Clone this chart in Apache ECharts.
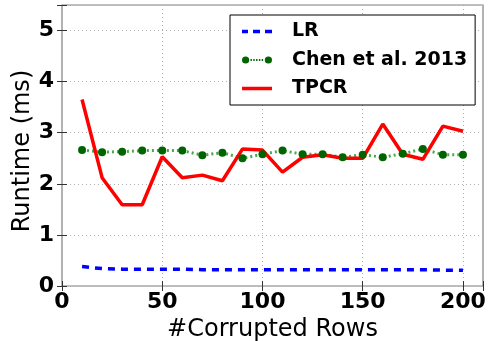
<!DOCTYPE html>
<html>
<head>
<meta charset="utf-8">
<script src="https://cdn.jsdelivr.net/npm/echarts@6/dist/echarts.min.js"></script>
<style>html,body{margin:0;padding:0;background:#fff}#c{width:488px;height:341px}</style>
</head>
<body>
<div id="c"></div>
<script>
const xValues = [10,20,30,40,50,60,70,80,90,100,110,120,130,140,150,160,170,180,190,200];
const lrValues = [0.38,0.34,0.33,0.33,0.33,0.33,0.32,0.32,0.32,0.32,0.32,0.32,0.32,0.32,0.32,0.32,0.32,0.32,0.31,0.31];
const chenValues = [2.66,2.62,2.63,2.65,2.65,2.65,2.56,2.61,2.50,2.58,2.65,2.58,2.58,2.52,2.57,2.52,2.59,2.68,2.57,2.57];
const tpcrValues = [3.65,2.12,1.59,1.59,2.53,2.12,2.17,2.06,2.68,2.66,2.23,2.52,2.57,2.50,2.50,3.17,2.58,2.48,3.13,3.03];
const seriesNames = ['LR','Chen et al. 2013','TPCR'];
const xTicks = [0,50,100,150,200];
const yTicks = [0,1,2,3,4,5];
const xAxisTitle = '#Corrupted Rows';
const yAxisTitle = 'Runtime (ms)';

const pairs = arr => xValues.map((x,i)=>[x,arr[i]]);
const font = 'DejaVu Sans';
// legend icons (30x10 box, with tiny corner anchors to fix the bounding box)
const anchors = 'M0,0h0.01v0.01h-0.01z M29.99,9.99h0.01v0.01h-0.01z ';
const iconLR = 'path://' + anchors + 'M0,3.3h6v3.4h-6z M11,3.3h7v3.4h-7z M23,3.3h7v3.4h-7z';
const iconChen = 'path://' + anchors +
  'M0,5a3.6,3.6 0 1,0 7.2,0a3.6,3.6 0 1,0 -7.2,0z M22.8,5a3.6,3.6 0 1,0 7.2,0a3.6,3.6 0 1,0 -7.2,0z ' +
  'M8.5,4h1.4v2h-1.4z M11.3,4h1.4v2h-1.4z M14.1,4h1.4v2h-1.4z M16.9,4h1.4v2h-1.4z M19.7,4h1.4v2h-1.4z';
const iconTPCR = 'path://' + anchors + 'M0,3.2h30v3.6h-30z';

const chart = echarts.init(document.getElementById('c'), null, {renderer:'canvas'});
const gridLine = {show:true, lineStyle:{color:'#b0b0b0', type:[1,3], width:1}};
const tick = {show:true, inside:true, length:5, lineStyle:{color:'#333'}};
chart.setOption({
  animation:false,
  grid:{left:62, right:5, top:5, bottom:55, show:true, borderColor:'#808080', borderWidth:1.2,
    containLabel:false, outerBoundsMode:'none'},
  graphic:[{
    type:'text', x:23, y:151, rotation:Math.PI/2, z:10,
    style:{text:yAxisTitle, fontFamily:font, fontSize:24, fill:'#000', align:'center', verticalAlign:'middle'}
  }],
  legend:{
    data:[
      {name:seriesNames[0], icon:iconLR, itemStyle:{color:'#0000ff'}},
      {name:seriesNames[1], icon:iconChen, itemStyle:{color:'#006400'}},
      {name:seriesNames[2], icon:iconTPCR, itemStyle:{color:'#ff0000'}}
    ],
    orient:'vertical', left:230, top:15,
    backgroundColor:'#fff', borderColor:'#000', borderWidth:1,
    padding:[6.5,8,6.5,12], itemWidth:30, itemHeight:10, itemGap:8.5,
    textStyle:{fontFamily:font, fontWeight:'bold', fontSize:19, lineHeight:20, color:'#000', padding:[0,0,0,15]}
  },
  xAxis:[{
    type:'value', min:0, max:210, interval:50,
    name:xAxisTitle, nameLocation:'middle', nameGap:32,
    nameTextStyle:{fontFamily:font, fontSize:24, color:'#000'},
    axisLine:{show:false}, axisTick:tick,
    axisLabel:{fontFamily:font, fontWeight:'bold', fontSize:22, color:'#000', margin:5,
      formatter:v=>xTicks.includes(v)?String(v):''},
    splitLine:gridLine
  },{
    type:'value', min:0, max:210, interval:50, position:'top',
    axisLine:{show:false}, axisTick:tick, axisLabel:{show:false}, splitLine:{show:false}
  }],
  yAxis:[{
    type:'value', min:0, max:5.5, interval:1,
    axisLine:{show:false}, axisTick:tick,
    axisLabel:{fontFamily:font, fontWeight:'bold', fontSize:22, color:'#000', margin:8,
      formatter:v=>yTicks.includes(v)?String(v):''},
    splitLine:gridLine
  },{
    type:'value', min:0, max:5.5, interval:1, position:'right',
    axisLine:{show:false}, axisTick:tick, axisLabel:{show:false}, splitLine:{show:false}
  }],
  series:[
    {name:seriesNames[0], type:'line', data:pairs(lrValues), symbol:'none',
      lineStyle:{color:'#0000ff', width:3.5, type:[7,6]}, itemStyle:{color:'#0000ff'}},
    {name:seriesNames[1], type:'line', data:pairs(chenValues), symbol:'circle', symbolSize:8,
      lineStyle:{color:'#4aa84a', width:3, type:[2,3]}, itemStyle:{color:'#006400'}},
    {name:seriesNames[2], type:'line', data:pairs(tpcrValues), symbol:'none',
      lineStyle:{color:'#ff0000', width:3.5}, itemStyle:{color:'#ff0000'}}
  ]
});
</script>
</body>
</html>
